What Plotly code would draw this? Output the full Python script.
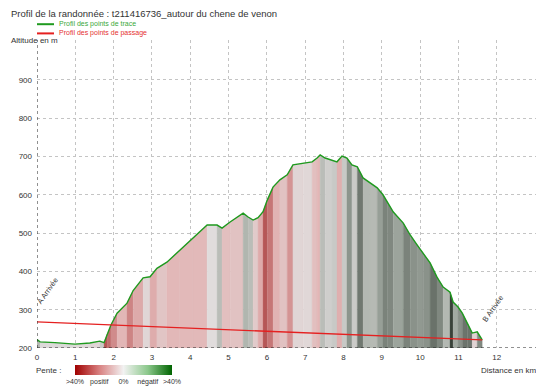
import plotly.graph_objects as go
from plotly.colors import sample_colorscale

# ---------------- data ----------------
title_text = "Profil de la randonnée : t211416736_autour du chene de venon"
dist_km = [0.00, 0.08, 0.47, 0.99, 1.38, 1.64, 1.75, 1.83, 1.93, 2.09, 2.35, 2.51,
           2.77, 2.95, 3.13, 3.39, 3.73, 4.07, 4.44, 4.70, 4.83, 5.04, 5.38, 5.51,
           5.64, 5.77, 5.90, 6.01, 6.16, 6.34, 6.53, 6.68, 6.95, 7.18, 7.31, 7.39,
           7.52, 7.70, 7.83, 7.96, 8.09, 8.22, 8.36, 8.51, 8.69, 8.88, 9.03, 9.14,
           9.30, 9.56, 9.74, 9.92, 10.08, 10.26, 10.44, 10.60, 10.78, 10.86, 10.99,
           11.10, 11.23, 11.36, 11.49, 11.62]
alt_m = [222, 216, 214, 210, 213, 218, 214, 236, 260, 291, 317, 350,
         383, 386, 408, 424, 456, 487, 521, 521, 513, 529, 552, 542,
         534, 540, 556, 586, 620, 639, 652, 678, 683, 686, 696, 704,
         696, 691, 686, 701, 696, 678, 673, 644, 631, 618, 600, 581,
         555, 526, 495, 469, 448, 422, 385, 359, 346, 320, 307,
         291, 265, 239, 242, 221]
waypoint_km = [0.0, 11.62]
waypoint_alt = [268, 221]
waypoint_labels = ["A Arrivée", "B Arrivée"]
x_ticks = list(range(0, 13))
y_ticks = [200, 300, 400, 500, 600, 700, 800, 900]
slope_tickvals = [-40, -20, 0, 20, 40]
slope_ticktext = [">40%", "positif", "0%", "négatif", ">40%"]

# ---------------- styles ----------------
FONT = "Liberation Sans, Arial, sans-serif"
TXT = "#333333"
Y_MIN, Y_MAX = 200, 1004
X_MAX = 13.05
fill_scale = [[0.00, "#1a241a"], [0.25, "#6c746c"], [0.375, "#a2aaa2"],
              [0.50, "#e0dcdc"], [0.625, "#e2b6b6"], [0.75, "#cf8888"],
              [1.00, "#8a0000"]]
bar_scale = [[0.0, "#a00000"], [0.25, "#d88080"], [0.5, "#f2f2f2"],
             [0.75, "#8cc88c"], [1.0, "#006400"]]

# slope (%) of each segment
slopes = []
for i in range(len(dist_km) - 1):
    dx = (dist_km[i + 1] - dist_km[i]) * 1000.0
    slopes.append((alt_m[i + 1] - alt_m[i]) / dx * 100.0)

fig = go.Figure()

# slope-coloured fill under the profile
for i, s in enumerate(slopes):
    t = min(max((s + 40) / 80.0, 0), 1)
    col = sample_colorscale(fill_scale, [t])[0]
    x0, x1 = dist_km[i], dist_km[i + 1]
    fig.add_trace(go.Scatter(
        x=[x0, x0, x1, x1, x0], y=[Y_MIN, alt_m[i], alt_m[i + 1], Y_MIN, Y_MIN],
        mode="lines", fill="toself", fillcolor=col,
        line=dict(width=0.3, color=col), hoverinfo="skip", showlegend=False))

# track profile
fig.add_trace(go.Scatter(x=dist_km, y=alt_m, mode="lines",
                         line=dict(color="#1f9a1f", width=1.4),
                         name="Profil des points de trace", showlegend=False))
# waypoint profile
fig.add_trace(go.Scatter(x=waypoint_km, y=waypoint_alt, mode="lines",
                         line=dict(color="#e52020", width=1.3),
                         name="Profil des points de passage", showlegend=False))

# colour scale legend (Pente)
neg_slopes = [-s for s in slopes] + [-slopes[-1]]
fig.add_trace(go.Scatter(
    x=dist_km, y=alt_m, mode="markers", hoverinfo="skip", showlegend=False,
    marker=dict(size=1, opacity=0, color=neg_slopes, colorscale=bar_scale,
                cmin=-40, cmax=40, showscale=True,
                colorbar=dict(orientation="h", x=0.076, xanchor="left",
                              y=-0.055, yanchor="top", len=97, lenmode="pixels",
                              thickness=10, thicknessmode="pixels",
                              outlinewidth=0, xpad=0, ypad=0,
                              tickvals=slope_tickvals, ticktext=slope_ticktext,
                              ticks="", ticklabelposition="outside bottom",
                              tickfont=dict(size=7, color=TXT, family=FONT)))))

# waypoint labels
for xk, ya, lab in zip(waypoint_km, waypoint_alt, waypoint_labels):
    fig.add_annotation(x=xk, y=ya, text=lab, showarrow=False, textangle=-55,
                       xshift=11, yshift=31, font=dict(size=7.5, color=TXT, family=FONT))

def py(px_from_top):
    """paper y for a pixel row of the 544x392 page (plot spans rows 40..348)"""
    return (348 - px_from_top) / 308.0

ann = [
    dict(text=title_text, x=-0.054, y=py(14.0), xanchor="left", yanchor="middle",
         font=dict(size=9.5, color=TXT, family=FONT)),
    dict(text="Profil des points de trace", x=0.042, y=py(24.2), xanchor="left",
         yanchor="middle", font=dict(size=7, color="#3aa83a", family=FONT)),
    dict(text="Profil des points de passage", x=0.042, y=py(33.4), xanchor="left",
         yanchor="middle", font=dict(size=7, color="#e53030", family=FONT)),
    dict(text="Altitude en m", x=-0.054, y=py(40.5), xanchor="left", yanchor="middle",
         font=dict(size=8, color=TXT, family=FONT)),
    dict(text="Distance en km", x=1.0, y=py(370), xanchor="right", yanchor="middle",
         font=dict(size=8, color=TXT, family=FONT)),
    dict(text="Pente :", x=-0.004, y=py(370), xanchor="left", yanchor="middle",
         font=dict(size=8, color=TXT, family=FONT)),
]
for a in ann:
    fig.add_annotation(xref="paper", yref="paper", showarrow=False, borderpad=0, **a)

shapes = [
    # legend samples
    dict(type="line", xref="paper", yref="paper", x0=0.0, x1=0.034, y0=py(24.2), y1=py(24.2),
         line=dict(color="#1f9a1f", width=2)),
    dict(type="line", xref="paper", yref="paper", x0=0.0, x1=0.034, y0=py(33.4), y1=py(33.4),
         line=dict(color="#e52020", width=2)),
    # dotted axis lines
    dict(type="line", xref="x", yref="paper", x0=0, x1=0, y0=0, y1=1,
         line=dict(color="#222222", width=1, dash="dot")),
    dict(type="line", xref="paper", yref="y", x0=0, x1=1, y0=Y_MIN, y1=Y_MIN,
         line=dict(color="#222222", width=1, dash="dot")),
]
for s in shapes:
    fig.add_shape(**s)

# the page body has an 8px margin, so the figure is 8px smaller and margins offset
fig.update_layout(
    width=536, height=384,
    margin=dict(l=29, r=7, t=32, b=44, autoexpand=False),
    paper_bgcolor="white", plot_bgcolor="white",
    font=dict(family=FONT, size=8, color=TXT),
    showlegend=False,
    xaxis=dict(range=[0, X_MAX], tickvals=x_ticks, showgrid=True,
               gridcolor="#c4c4c4", griddash="dot", gridwidth=1,
               zeroline=False, showline=False, ticks="",
               tickfont=dict(size=8, color=TXT), ticklabelstandoff=3),
    yaxis=dict(range=[Y_MIN, Y_MAX], tickvals=y_ticks, showgrid=True,
               gridcolor="#c4c4c4", griddash="dot", gridwidth=1,
               zeroline=False, showline=False, ticks="",
               tickfont=dict(size=8, color=TXT), ticklabelstandoff=4),
)

fig.write_html("out.html")
